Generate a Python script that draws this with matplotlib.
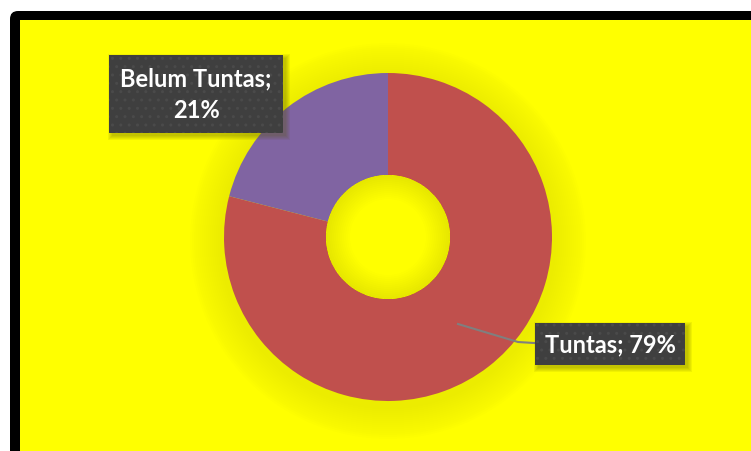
import matplotlib.pyplot as plt
from matplotlib.patches import FancyBboxPatch, Rectangle, Circle, Wedge

# data
kategori = ["Tuntas", "Belum Tuntas"]
persen = [79, 21]
warna = ["#C0504D", "#8064A2"]

W, H = 751, 452
fig = plt.figure(figsize=(W / 100, H / 100), dpi=100)
fig.patch.set_facecolor("white")
ax = fig.add_axes([0, 0, 1, 1])
ax.set_xlim(0, W)
ax.set_ylim(0, H)
ax.set_aspect("equal")
ax.axis("off")

# bingkai hitam + latar kuning
ax.add_patch(FancyBboxPatch((10, -60), 820, 440 + 60, boxstyle="round,pad=0,rounding_size=8",
                            fc="black", ec="none", zorder=0))
ax.add_patch(Rectangle((20, -60), 800, 431 + 60, fc="#FFFF00", ec="none", zorder=1))

cx, cy = 388, 452 - 238
R, r_in = 164, 62

# bayangan lembut di sekitar donat
for k in range(16):
    ax.add_patch(Circle((cx, cy - 4), R + 34 - 2 * k, fc="#7a7a00", ec="none",
                        alpha=0.009, zorder=2))

wedges, _ = ax.pie(persen, colors=warna, startangle=90, counterclock=False,
                   center=(cx, cy), radius=R,
                   wedgeprops=dict(width=R - r_in, edgecolor="none"))
for w in wedges:
    w.set_zorder(3)
ax.add_patch(Circle((cx, cy), r_in, fc="#FFFF00", ec="none", zorder=4))
# bayangan dalam lubang
for k in range(12):
    ax.add_patch(Wedge((cx, cy), r_in, 0, 360, width=2 * k + 2, fc="#7a7a00", ec="none",
                       alpha=0.012, zorder=4))
ax.set_xlim(0, W)
ax.set_ylim(0, H)

teks = dict(color="white", fontsize=17, fontweight="bold", family=["Lato", "DejaVu Sans"],
            ha="center", va="center", zorder=6, linespacing=1.45)

t1 = ax.text(196, 452 - 95, f"{kategori[1]};\n{persen[1]}%",
             bbox=dict(boxstyle="square,pad=0.5", fc="#3f3f3f", ec="#4a4a4a", lw=0, hatch=".."),
             **teks)
t2 = ax.text(610, 452 - 345, f"{kategori[0]}; {persen[0]}%",
             bbox=dict(boxstyle="square,pad=0.42", fc="#3f3f3f", ec="#4a4a4a", lw=0, hatch=".."),
             **teks)

# bayangan kotak label (lembut)
fig.canvas.draw()
inv = ax.transData.inverted()
for t in (t1, t2):
    bb = t.get_bbox_patch().get_window_extent().transformed(inv)
    for k in range(5):
        g = 4 - k
        ax.add_patch(Rectangle((bb.x0 + 3 - g, bb.y0 - 3 - g), bb.width + 2 * g, bb.height + 2 * g,
                               fc="#555500", ec="none", alpha=0.08, zorder=5.5))

# garis penunjuk
ax.plot([458, 518, 534], [452 - 325, 452 - 343, 452 - 344], color="#7f7f7f", lw=1.5, zorder=5)

fig.savefig("out.png", dpi=100, facecolor="white")
